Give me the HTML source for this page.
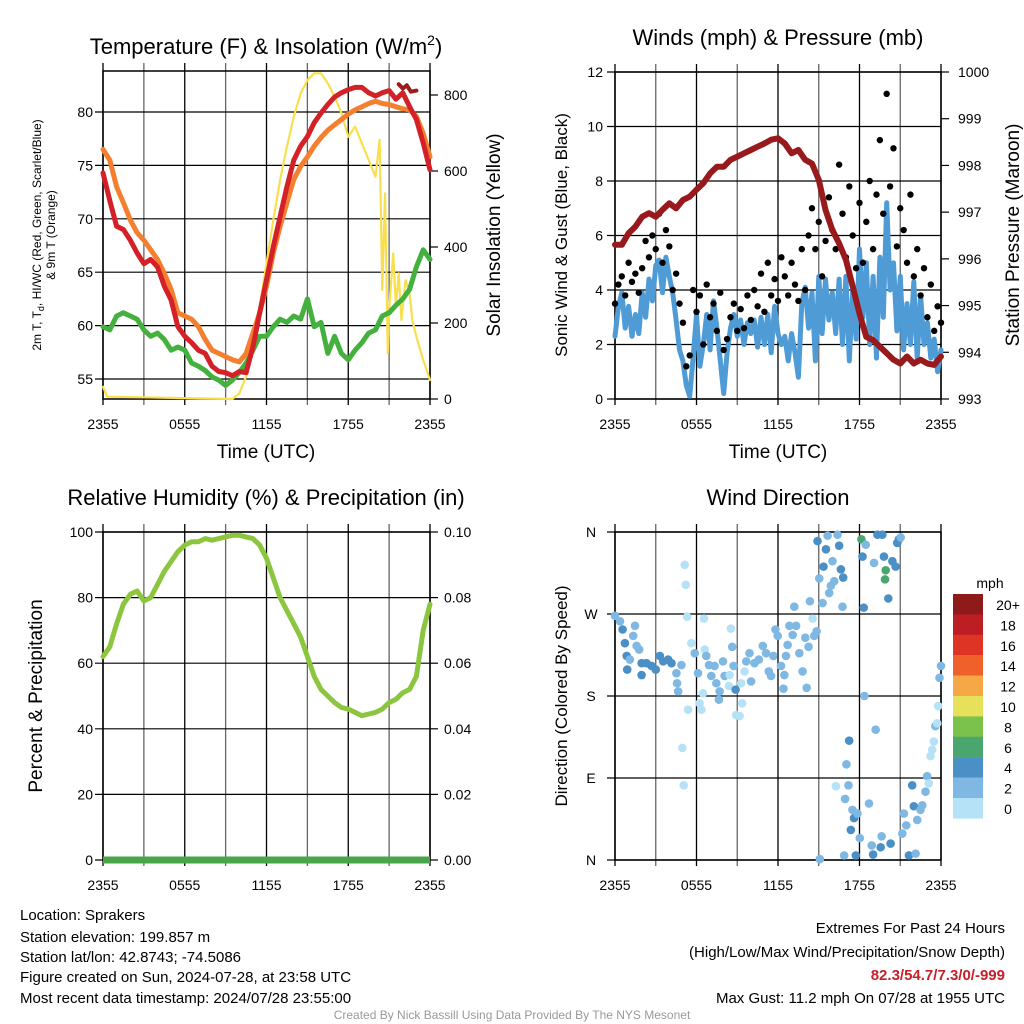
<!DOCTYPE html>
<html><head><meta charset="utf-8"><style>
html,body{margin:0;padding:0;background:#fff;}
svg{display:block;font-family:"Liberation Sans",sans-serif;}
</style></head><body>
<svg id="chart" width="1024" height="1024" viewBox="0 0 1024 1024" xmlns="http://www.w3.org/2000/svg">
<rect x="0" y="0" width="1024" height="1024" fill="#fff"/>
<g id="layer"></g>
<text x="266" y="54" font-size="22" text-anchor="middle">Temperature (F) &amp; Insolation (W/m<tspan dy="-9" font-size="14">2</tspan><tspan dy="9">)</tspan></text>
<text x="778" y="45" font-size="22" text-anchor="middle">Winds (mph) &amp; Pressure (mb)</text>
<text x="266" y="505" font-size="22" text-anchor="middle">Relative Humidity (%) &amp; Precipitation (in)</text>
<text x="778" y="505" font-size="22" text-anchor="middle">Wind Direction</text>
<text x="266" y="458" font-size="19" text-anchor="middle">Time (UTC)</text>
<text x="778" y="458" font-size="19" text-anchor="middle">Time (UTC)</text>
<text transform="translate(41,235) rotate(-90)" font-size="12" text-anchor="middle">2m T, T<tspan dy="3" font-size="9">d</tspan><tspan dy="-3">, HI/WC (Red, Green, Scarlet/Blue)</tspan></text>
<text transform="translate(55,235) rotate(-90)" font-size="12" text-anchor="middle">&amp; 9m T (Orange)</text>
<text transform="translate(500,235) rotate(-90)" font-size="19" text-anchor="middle">Solar Insolation (Yellow)</text>
<text transform="translate(567,235) rotate(-90)" font-size="17" text-anchor="middle">Sonic Wind &amp; Gust (Blue, Black)</text>
<text transform="translate(1019,235) rotate(-90)" font-size="19" text-anchor="middle">Station Pressure (Maroon)</text>
<text transform="translate(42,696) rotate(-90)" font-size="19" text-anchor="middle">Percent &amp; Precipitation</text>
<text transform="translate(567,696) rotate(-90)" font-size="17" text-anchor="middle">Direction (Colored By Speed)</text>
<g font-size="15">
<text x="20" y="920">Location: Sprakers</text>
<text x="20" y="942">Station elevation: 199.857 m</text>
<text x="20" y="962">Station lat/lon: 42.8743; -74.5086</text>
<text x="20" y="982">Figure created on Sun, 2024-07-28, at 23:58 UTC</text>
<text x="20" y="1003">Most recent data timestamp: 2024/07/28 23:55:00</text>
</g>
<g font-size="15" text-anchor="end">
<text x="1005" y="933">Extremes For Past 24 Hours</text>
<text x="1005" y="957">(High/Low/Max Wind/Precipitation/Snow Depth)</text>
<text x="1005" y="980" fill="#c8202a" font-weight="bold">82.3/54.7/7.3/0/-999</text>
<text x="1005" y="1003">Max Gust: 11.2 mph On 07/28 at 1955 UTC</text>
</g>
<text x="512" y="1019" font-size="12" fill="#999" text-anchor="middle">Created By Nick Bassill Using Data Provided By The NYS Mesonet</text>
</svg>
<script>
const xTickLabels = ["2355","0555","1155","1755","2355"];
// Temperature panel series (half-hour steps, 0..24 h)
const temp9m = [76.5,75.5,73,71.5,69.9,68.7,68,67.1,66.2,64.9,63.4,61.2,60.9,60.6,59.9,58.7,57.7,57.4,57.1,56.8,56.6,57.4,59.3,61.2,63.7,66.8,69.3,71.5,73.7,74.9,75.8,76.8,77.6,78.3,78.8,79.3,79.8,80.2,80.5,80.8,81,80.8,80.7,80.5,80.3,80.2,79.6,78,75.8];
const temp2m = [74.3,71.7,69.3,69,68,66.8,65.8,66.2,65.5,63.7,62.4,59.9,59,58.4,57.7,57.4,56.2,55.7,55.6,55.3,55.7,55.6,58,61.2,64.3,67.4,70.2,73,75.5,76.8,77.7,79,79.9,80.7,81.4,81.8,82.1,82.3,82.3,81.8,81.5,81.8,82,81.2,81.8,80.5,79.3,77.1,74.6];
const dewpoint = [59.9,59.6,60.9,61.2,60.9,60.6,59.6,59,59.3,58.7,57.7,58,57.7,56.5,56.2,55.8,55.2,54.9,54.4,54.9,55.6,56.5,57.7,59,59,59.9,60.6,60.3,60.9,60.6,62.5,59.9,60.3,57.4,59,57.4,56.8,57.7,58.4,59.3,59.6,60.9,61.2,61.9,62.5,63.4,65.5,67.1,66.2];
const heatIdxTimes = [21.7,22.0,22.3,22.6,23.0];
const heatIdx = [82.6,82.2,82.5,81.9,82.0];
const solarTimes = [0,0.3,9.5,10,10.5,11,11.5,12,12.5,13,13.5,14,14.5,15,15.5,16,16.5,17,17.5,18,18.5,19,19.5,20,20.3,20.5,20.7,20.9,21,21.3,21.5,21.7,21.9,22.2,22.5,22.7,23,23.5,24];
const solar = [32,6,0,15,59,138,243,357,471,576,664,743,804,839,857,857,831,796,752,690,717,673,629,585,682,287,541,120,234,383,243,331,208,313,278,208,164,103,50];
// Wind panel (quarter-hour steps)
const sonicWind = [2.3,3.4,3.9,2.6,3.4,2.3,3.1,2.4,3.9, 3.0,4.4,3.6,4.9,5.1,3.9,5.2,4.5, 3.9,2.9,1.8,1.4,0.5,0.1,1.5,3.1, 1.2,2.0,3.1,1.8,3.6,2.6,1.4,0.2, 1.7,2.6,3.1,2.3,2.9,2.0,2.8,2.4, 2.9,1.9,3.0,2.0,3.1,1.7,3.4,2.4, 2.0,2.3,1.4,2.4,1.7,0.8,3.5,4.1, 2.6,3.9,1.4,4.5,2.4,4.4,2.9,3.9, 2.4,4.4,2.0,4.5,1.4,4.0,2.2,5.5, 3.0,5.0,2.0,4.5,1.5,5.2,3.0,7.2, 4.0,5.0,2.5,4.5,1.8,3.5,2.0,4.3, 1.5,3.8,2.0,2.8,1.5,2.2,1.0,1.8];
const gust = [3.5,4.2,4.5,3.8,5.0,4.3,4.6,3.9,4.8, 5.8,5.2,6.0,5.5,6.8,5.0,6.2,5.6, 4.0,4.6,3.5,2.8,1.2,1.6,4.0,3.2, 3.8,2.0,4.2,3.0,3.5,2.5,3.9,1.8, 2.2,3.0,3.5,2.5,3.3,2.6,3.8,2.9, 4.0,3.4,4.6,3.2,5.0,3.8,4.4,3.6, 5.2,4.5,3.8,5.0,4.2,3.6,5.5,4.0, 6.0,7.0,5.5,6.5,4.5,5.8,7.4,6.2, 5.5,8.6,6.8,5.2,7.8,6.0,4.8,7.2, 5.0,6.5,8.0,5.5,7.5,9.5,6.8,11.2, 7.8,9.2,5.6,7.0,6.2,5.0,7.5,4.5, 5.5,3.8,4.8,3.0,4.2,2.5,3.4,2.8];
const pressure = [996.3,996.3,996.55,996.69,996.9,996.98,996.9,997.05,997.19,997.08,997.26,997.33,997.48,997.62,997.83,997.97,997.97,998.12,998.19,998.26,998.33,998.4,998.47,998.55,998.58,998.47,998.26,998.33,998.12,998.04,997.69,997.05,996.62,996.33,995.98,995.41,994.83,994.33,994.26,994.12,993.98,993.84,993.76,993.91,993.76,993.84,993.76,993.73,993.91];
// Humidity (half-hour steps)
const rh = [62,65,72,78,81,82,79,80,84,88,91,94,96,97,97,98,97.5,98,98.5,99,99,98.5,98,96,92,86,80,76,72,68,62,56,52,50,48,46.5,46,45,44,44.5,45,46,48,49,51,52,56,70,78];
const precip = [0,0,0,0,0,0,0,0,0,0,0,0,0,0,0,0,0,0,0,0,0,0,0,0,0];
// Wind direction scatter
const dirTimes = [0,0.37,0.56,0.73,0.86,0.9,1.1,1.34,1.47,1.59,1.78,1.96,1.96,2.32,2.69,3.0,3.3,3.55,3.91,4.16,4.52,4.57,4.65,4.89,5.13,5.21,5.31,4.96,5.06,5.38,5.62,5.87,6.11,6.23,6.36,6.48,6.55,6.6,6.72,6.92,7.09,7.33,7.46,7.65,7.7,7.95,8.07,8.39,8.44,8.53,8.63,8.73,8.88,8.92,9.17,9.29,9.36,9.54,9.66,9.9,10.02,10.27,10.59,10.88,11.12,11.32,11.49,11.66,11.81,11.98,12.22,12.4,12.47,12.59,12.71,12.84,13.08,13.2,13.33,13.57,13.81,14.01,14.11,14.25,14.35,14.55,14.67,14.84,14.91,15.04,15.08,15.28,15.35,15.53,15.65,15.77,15.89,16.01,16.14,16.26,16.38,16.5,16.63,16.75,16.8,16.87,16.94,17.04,17.19,17.24,17.36,17.48,17.6,17.73,17.85,18.02,18.14,18.22,18.31,18.36,18.46,18.7,18.9,19.0,19.07,19.19,19.32,19.56,19.63,19.68,19.8,19.93,19.88,20.12,20.29,20.42,20.66,20.78,20.9,21.03,21.15,21.27,21.44,21.64,21.88,22.0,22.13,22.25,22.49,22.62,22.86,22.98,23.1,23.23,23.35,23.47,23.59,23.72,23.79,23.89,24.0];
const dirDeg = [268,262,253,238,224,209,220,246,257,235,231,203,216,216,213,209,224,218,220,216,205,194,185,214,324,302,267,123,82,165,238,227,205,172,165,183,265,231,224,214,202,213,194,176,185,218,202,191,203,254,234,213,187,159,158,194,172,207,218,227,196,216,220,235,227,207,202,224,253,246,213,188,203,224,236,257,247,278,257,227,207,244,189,234,284,265,246,251,350,309,1,282,322,341,356,293,301,328,306,81,357,345,319,278,310,5,67,105,82,131,33,55,46,5,51,24,352,333,277,180,346,62,16,6,326,143,357,14,26,357,333,318,308,287,18,328,322,348,352,354,29,51,38,5,82,59,7,44,55,60,75,92,84,114,121,130,147,150,169,200,213];
const dirSpeed = [3,3,5,5,5,5,3,3,3,3,3,5,5,5,5,5,5,5,5,5,3,3,3,3,1,1,1,1,1,1,1,3,3,1,1,1,1,1,3,3,3,3,3,3,3,3,3,1,1,1,3,3,5,1,1,1,1,1,3,3,3,3,3,3,3,3,3,3,3,3,3,3,3,3,3,3,3,3,3,3,3,3,3,3,3,1,3,3,5,3,3,3,5,5,3,3,3,3,3,1,3,5,5,3,5,3,3,3,3,5,5,3,5,5,3,3,7,5,5,3,3,3,3,5,3,3,5,5,3,5,5,7,7,5,5,5,5,5,5,3,3,3,3,5,5,5,3,3,3,3,3,3,1,1,1,1,3,1,1,3,3,3,3];
const legendLabels = ["20+","18","16","14","12","10","8","6","4","2","0"];
const speedColors = ["#b6e2f7","#7fb8e3","#4a8fc6","#4aa56e","#7bc24c","#e6e05a","#f6a847","#f0602b","#de3426","#bd1e24","#8f1a1a"];

const NS = "http://www.w3.org/2000/svg";
const layer = document.getElementById("layer");
function mk(tag, attrs, parent) {
  const e = document.createElementNS(NS, tag);
  for (const k in attrs) e.setAttribute(k, attrs[k]);
  (parent || layer).appendChild(e);
  return e;
}
function scale(d0, d1, r0, r1) { return v => r0 + (v - d0) * (r1 - r0) / (d1 - d0); }

const P = {
  temp: {x0:103,x1:430,y0:71,y1:399},
  wind: {x0:615,x1:941,y0:72,y1:399},
  rh:   {x0:103,x1:430,y0:532,y1:860},
  dir:  {x0:615,x1:941,y0:532,y1:860}
};

function frame(p, name) {
  const g = mk("g", {});
  
  
  const xs = scale(0, 24, p.x0, p.x1);
  for (let h = 0; h <= 24; h += 3) {
    const x = xs(h);
    const ln = mk("line", {x1:x, x2:x, y1:p.y0 - 8, y2:p.y1 + 6, stroke: h % 6 === 0 ? "#000" : "#666", "stroke-width":1.3}, g);
    
    
  }
  xTickLabels.forEach((lab, i) => {
    const t = mk("text", {x: xs(i * 6), y: p.y1 + 30, "font-size": 14, "text-anchor":"middle"}, g);
    t.textContent = lab;
    
    
  });
  mk("rect", {x:p.x0, y:p.y0, width:p.x1-p.x0, height:p.y1-p.y0, fill:"none", stroke:"#000", "stroke-width":1.5}, g);
  return {g, xs};
}
function hgrid(p, g, ys, vals, fmt, side, name, dx) {
  vals.forEach(v => {
    const y = ys(v);
    if (side === "left") {
      mk("line", {x1:p.x0 - 8, x2:p.x1, y1:y, y2:y, stroke:"#000", "stroke-width":1.2}, g);
    } else {
      mk("line", {x1:p.x1, x2:p.x1 + 8, y1:y, y2:y, stroke:"#000", "stroke-width":1.2}, g);
    }
    const t = mk("text", {x: side === "left" ? p.x0 - (dx || 10) : p.x1 + (dx || 14), y: y + 5, "font-size": 14, "text-anchor": side === "left" ? "end" : "start"}, g);
    t.textContent = fmt(v);
    
    
  });
}
function path(pts, attrs, g, name) {
  const e = mk("path", Object.assign({d: "M" + pts.map(p => p[0].toFixed(1) + "," + p[1].toFixed(1)).join("L"), fill:"none", "stroke-linejoin":"round", "stroke-linecap":"round"}, attrs), g);
  
  
  return e;
}

// Temperature panel
{
  const p = P.temp, f = frame(p, "temp");
  const ys = scale(55, 80, 379, 112);
  const ysR = scale(0, 800, 399, 95);
  hgrid(p, f.g, ys, [55,60,65,70,75,80], v => v, "left", "temp-y");
  hgrid(p, f.g, ysR, [0,200,400,600,800], v => v, "right", "insolation-y");
  const half = i => f.xs(i * 0.5);
  path(solarTimes.map((t, i) => [f.xs(t), ysR(solar[i])]), {stroke:"#f9df4d", "stroke-width":2.2}, f.g, "solar-insolation-line");
  path(dewpoint.map((v, i) => [half(i), ys(v)]), {stroke:"#44b03e", "stroke-width":5}, f.g, "dewpoint-line");
  path(temp9m.map((v, i) => [half(i), ys(v)]), {stroke:"#f47f2f", "stroke-width":5}, f.g, "temp-9m-line");
  path(temp2m.map((v, i) => [half(i), ys(v)]), {stroke:"#d42027", "stroke-width":5}, f.g, "temp-2m-line");
  path(heatIdxTimes.map((t, i) => [f.xs(t), ys(heatIdx[i])]), {stroke:"#9b1b1e", "stroke-width":4}, f.g, "heat-index-line");
}
// Wind panel
{
  const p = P.wind, f = frame(p, "wind");
  const ys = scale(0, 12, 399, 72);
  const ysR = scale(993, 1000, 399, 72);
  hgrid(p, f.g, ys, [0,2,4,6,8,10,12], v => v, "left", "wind-y", 12);
  hgrid(p, f.g, ysR, [993,994,995,996,997,998,999,1000], v => v, "right", "pressure-y", 17);
  const q = i => f.xs(i * 0.25);
  path(sonicWind.map((v, i) => [q(i), ys(v)]), {stroke:"#4f9bd6", "stroke-width":5}, f.g, "sonic-wind-line");
  gust.forEach((v, i) => {
    const c = mk("circle", {cx:q(i), cy:ys(v), r:3.2, fill:"#000"}, f.g);
    
    
  });
  path(pressure.map((v, i) => [f.xs(i * 0.5), ysR(v)]), {stroke:"#981a1c", "stroke-width":6}, f.g, "pressure-line");
}
// Humidity panel
{
  const p = P.rh, f = frame(p, "rh");
  const ys = scale(0, 100, 860, 532);
  const ysR = scale(0, 0.1, 860, 532);
  hgrid(p, f.g, ys, [0,20,40,60,80,100], v => v, "left", "rh-y");
  hgrid(p, f.g, ysR, [0,0.02,0.04,0.06,0.08,0.1], v => v.toFixed(2), "right", "precip-y");
  path(precip.map((v, i) => [f.xs(i), ysR(v)]), {stroke:"#4aa54a", "stroke-width":7, "stroke-linecap":"butt"}, f.g, "precip-line");
  path(rh.map((v, i) => [f.xs(i * 0.5), ys(v)]), {stroke:"#8cc63f", "stroke-width":5}, f.g, "humidity-line");
}
// Wind direction panel
{
  const p = P.dir, f = frame(p, "dir");
  const ys = scale(0, 360, 860, 532);
  const dl = ["N","E","S","W","N"];
  [0,90,180,270,360].forEach((v, i) => {
    const y = ys(v);
    mk("line", {x1:p.x0 - 8, x2:p.x1, y1:y, y2:y, stroke:"#000", "stroke-width":1.2}, f.g);
    const t = mk("text", {x:p.x0 - 24, y:y + 5, "font-size":14, "text-anchor":"middle"}, f.g);
    t.textContent = dl[i];
    
    
  });
  dirTimes.forEach((t, i) => {
    const sp = dirSpeed[i] === undefined ? 3 : dirSpeed[i];
    const bin = Math.min(10, Math.floor(sp / 2));
    const c = mk("circle", {cx:f.xs(t), cy:ys(dirDeg[i]), r:4.3, fill:speedColors[bin]}, f.g);
    
    
  });
  const lg = mk("g", {});
  
  
  const tt = mk("text", {x:990, y:588, "font-size":14, "text-anchor":"middle"}, lg);
  tt.textContent = "mph";
  legendLabels.forEach((lab, i) => {
    const y0 = 594 + i * 20.4;
    mk("rect", {x:953, y:y0, width:30, height:20.6, fill:speedColors[10 - i]}, lg);
    const t = mk("text", {x:1008, y:y0 + 16, "font-size":14, "text-anchor":"middle"}, lg);
    t.textContent = lab;
    
    
  });
}
</script>
</body></html>
